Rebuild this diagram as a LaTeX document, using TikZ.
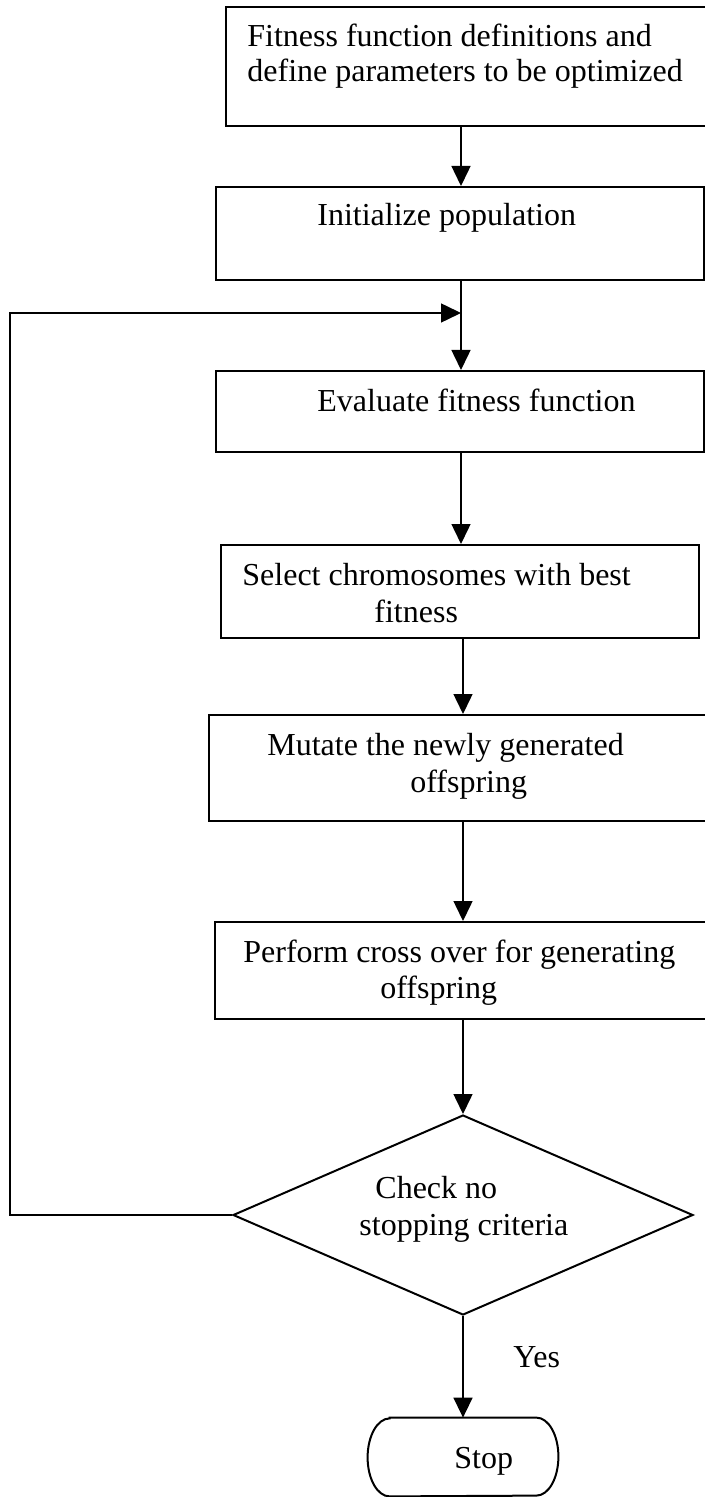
\documentclass[tikz,border=0pt]{standalone}
\usepackage{fontspec}
\setmainfont{Liberation Serif}
\usetikzlibrary{arrows.meta,shapes.geometric}
\begin{document}
\begin{tikzpicture}[x=0.5pt,y=-0.5pt,
  box/.style={draw, line width=1pt, inner sep=0, rectangle},
  txt/.style={font=\fontsize{16}{18}\selectfont, inner sep=0, anchor=base west},
  arr/.style={draw, line width=0.75pt, -{Triangle[length=10pt,width=9.5pt]}},
  conn/.style={draw, line width=0.75pt}]
\useasboundingbox (0,0) rectangle (705,1497);
\clip (0,0) rectangle (705,1497);
% boxes
\node[box, minimum width=243pt, minimum height=59.5pt] (b1) at (469,66.5) {};
\node[box, minimum width=244pt, minimum height=46.5pt] (b2) at (460,233.5) {};
\node[box, minimum width=244pt, minimum height=40.5pt] (b3) at (460,411.5) {};
\node[box, minimum width=239pt, minimum height=46.5pt] (b4) at (460,591.5) {};
\node[box, minimum width=251.5pt, minimum height=53pt] (b5) at (460.5,768) {};
\node[box, minimum width=248.5pt, minimum height=48.5pt] (b6) at (463.5,970.5) {};
\node[draw, line width=1pt, diamond, inner sep=0, minimum width=230pt, minimum height=100pt] (d) at (463,1215) {};
\node[inner sep=0, minimum width=95pt, minimum height=39pt] (stop) at (463,1457) {};
\draw[line width=1pt] ([xshift=11pt]stop.north west) -- ([xshift=-11pt]stop.north east)
  arc[start angle=90, end angle=-90, x radius=11pt, y radius=19.5pt]
  -- ([xshift=11pt]stop.south west)
  arc[start angle=270, end angle=90, x radius=11pt, y radius=19.5pt] -- cycle;
% texts
\node[txt] (t1a) at (247,47) {Fitness function definitions and};
\node[txt] (t1b) at (247,82) {define parameters to be optimized};
\node[txt] (t2) at (317,226) {Initialize population};
\node[txt] (t3) at (317,412) {Evaluate fitness function};
\node[txt] (t4a) at (242,585) {Select chromosomes with best};
\node[txt] (t4b) at (374,622) {fitness};
\node[txt] (t5a) at (267,755) {Mutate the newly generated};
\node[txt] (t5b) at (410,792) {offspring};
\node[txt] (t6a) at (243,962) {Perform cross over for generating};
\node[txt] (t6b) at (380,998) {offspring};
\node[txt] (tda) at (375,1198) {Check no};
\node[txt] (tdb) at (359,1235) {stopping criteria};
\node[txt] (yes) at (513,1367) {Yes};
\node[txt] (ts) at (454,1468) {Stop};
% connectors
\coordinate (cx) at (461,0);
\coordinate (j) at (461,313);
\coordinate (lx) at (10,313);
\draw[arr] (b1.south -| cx) -- (b2.north -| cx);
\draw[arr] (b2.south -| cx) -- (b3.north -| cx);
\draw[arr] (b3.south -| cx) -- (b4.north -| cx);
\draw[arr] (b4.south -| d.north) -- (b5.north -| d.north);
\draw[arr] (b5.south -| d.north) -- (b6.north -| d.north);
\draw[arr] (b6.south -| d.north) -- (d.north);
\draw[arr] (d.south) -- (stop.north);
\draw[arr] (d.west) -- (d.west -| lx) -- (lx) -- (j);
\end{tikzpicture}
\end{document}
